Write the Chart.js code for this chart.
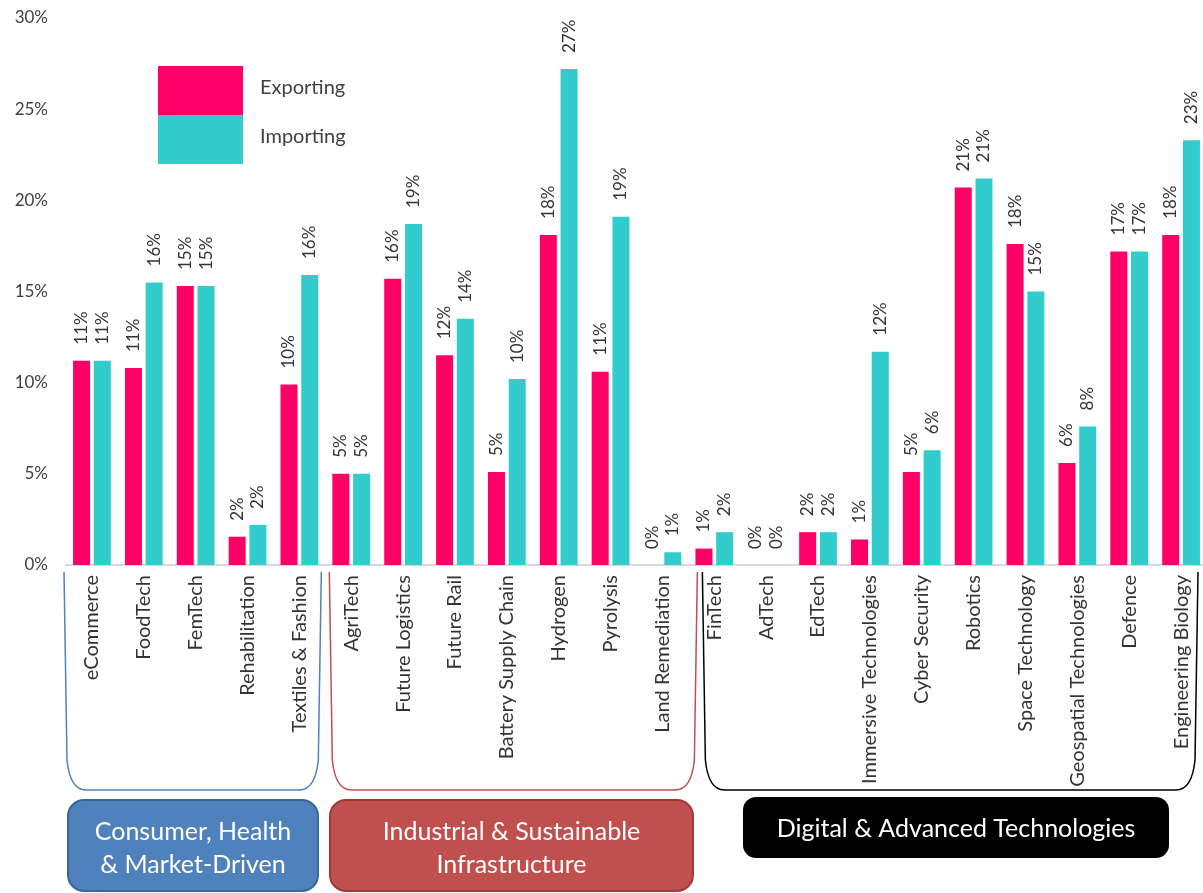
<!DOCTYPE html>
<html>
<head>
<meta charset="utf-8">
<script src="https://cdn.jsdelivr.net/npm/chart.js@4.4.1/dist/chart.umd.min.js"></script>
<style>
  html, body { margin: 0; padding: 0; background: #fff; overflow: hidden; }
  #wrap { position: absolute; left: 0; top: 0; width: 1207px; height: 893px; }
</style>
</head>
<body>
<div id="wrap"><canvas id="chart"></canvas></div>
<script>
// values (percent)
const categories = ["eCommerce", "FoodTech", "FemTech", "Rehabilitation", "Textiles & Fashion",
  "AgriTech", "Future Logistics", "Future Rail", "Battery Supply Chain", "Hydrogen", "Pyrolysis", "Land Remediation",
  "FinTech", "AdTech", "EdTech", "Immersive Technologies", "Cyber Security", "Robotics", "Space Technology",
  "Geospatial Technologies", "Defence", "Engineering Biology"];
const exporting = [11.2, 10.8, 15.3, 1.55, 9.9, 5.0, 15.7, 11.5, 5.1, 18.1, 10.6, 0,
  0.9, 0, 1.8, 1.4, 5.1, 20.7, 17.6, 5.6, 17.2, 18.1];
const importing = [11.2, 15.5, 15.3, 2.2, 15.9, 5.0, 18.7, 13.5, 10.2, 27.2, 19.1, 0.7,
  1.8, 0, 1.8, 11.7, 6.3, 21.2, 15.0, 7.6, 17.2, 23.3];
const seriesNames = ["Exporting", "Importing"];
const yTickStep = 5;
const yMax = 30;

const groupLabels = [["Consumer, Health", "& Market-Driven"], ["Industrial & Sustainable", "Infrastructure"], ["Digital & Advanced Technologies"]];
const groupFirst = [0, 5, 12];
const groupLast = [4, 11, 21];

const COL_EXP = "#FF0066";
const COL_IMP = "#33CCCC";
const FONT = "Lato";

// bracket insets (px) and boxes for the three groups
const groupStyle = [
  { line: "#4F81BD", inL: -2, inR: -4, box: [68, 800, 250, 91], fill: "#4F81BD", edge: "#3B6696", r: 16 },
  { line: "#C0504D", inL: 4, inR: 9, box: [330, 800, 363, 91], fill: "#C0504D", edge: "#9C3B38", r: 16 },
  { line: "#000000", inL: 14, inR: -9, box: [744, 798, 424, 59], fill: "#000000", edge: "#000000", r: 12 }
];

const extras = {
  id: "extras",
  afterDatasetsDraw(chart) {
    const ctx = chart.ctx;
    // value labels above bars
    ctx.save();
    ctx.font = "17px " + FONT;
    ctx.fillStyle = "#333333";
    ctx.textAlign = "left";
    ctx.textBaseline = "middle";
    chart.data.datasets.forEach((ds, di) => {
      chart.getDatasetMeta(di).data.forEach((bar, i) => {
        ctx.save();
        ctx.translate(bar.x, bar.y - 16);
        ctx.rotate(-Math.PI / 2);
        ctx.fillText(Math.round(ds.data[i]) + "%", 0, 0);
        ctx.restore();
      });
    });
    ctx.restore();
  },
  afterDraw(chart) {
    const ctx = chart.ctx;
    const x = chart.scales.x;
    const cw = x.getPixelForValue(1) - x.getPixelForValue(0);

    // legend
    ctx.save();
    chart.data.datasets.forEach((ds, i) => {
      ctx.fillStyle = ds.backgroundColor;
      ctx.fillRect(158, 66 + i * 49, 85, 49);
      ctx.fillStyle = "#404040";
      ctx.font = "20px " + FONT;
      ctx.textBaseline = "middle";
      ctx.fillText(ds.label, 260, 88 + i * 49);
    });
    ctx.restore();

    // group brackets and boxes
    groupLabels.forEach((lines, g) => {
      const st = groupStyle[g];
      const l = x.getPixelForValue(groupFirst[g]) - cw / 2 + st.inL;
      const r = x.getPixelForValue(groupLast[g]) + cw / 2 + st.inR;
      const top = 572, bot = 790;
      ctx.save();
      ctx.strokeStyle = st.line;
      ctx.lineWidth = 1.5;
      ctx.beginPath();
      ctx.moveTo(l, top);
      ctx.lineTo(l + 3, bot - 30);
      ctx.quadraticCurveTo(l + 6, bot, l + 22, bot);
      ctx.lineTo(r - 22, bot);
      ctx.quadraticCurveTo(r - 6, bot, r - 3, bot - 30);
      ctx.lineTo(r, top);
      ctx.stroke();

      const [bx, by, bw, bh] = st.box;
      ctx.beginPath();
      ctx.roundRect(bx, by, bw, bh, st.r);
      ctx.fillStyle = st.fill;
      ctx.fill();
      ctx.lineWidth = 2;
      ctx.strokeStyle = st.edge;
      ctx.stroke();

      ctx.fillStyle = "#FFFFFF";
      ctx.font = "25px " + FONT;
      ctx.textAlign = "center";
      ctx.textBaseline = "middle";
      const lh = 33;
      const cy = by + bh / 2 - (lines.length - 1) * lh / 2 + (lines.length > 1 ? 3 : 1);
      lines.forEach((t, k) => ctx.fillText(t, bx + bw / 2, cy + k * lh));
      ctx.restore();
    });
  }
};

new Chart(document.getElementById("chart"), {
  type: "bar",
  data: {
    labels: categories,
    datasets: [
      { label: seriesNames[0], data: exporting, backgroundColor: COL_EXP },
      { label: seriesNames[1], data: importing, backgroundColor: COL_IMP }
    ]
  },
  options: {
    responsive: true,
    maintainAspectRatio: false,
    animation: false,
    layout: { padding: { top: 18, right: 0, bottom: 0, left: 0 } },
    datasets: { bar: { categoryPercentage: 0.8, barPercentage: 0.82 } },
    plugins: { legend: { display: false }, tooltip: { enabled: false } },
    scales: {
      x: {
        grid: { display: false, drawTicks: false },
        border: { display: true, color: "#D9D9D9", width: 2 },
        ticks: { autoSkip: false, minRotation: 90, maxRotation: 90, padding: 10,
                 color: "#333333", font: { family: FONT, size: 20 } },
        afterFit(s) { s.height = 328; s.paddingLeft = 0; s.paddingRight = 0; }
      },
      y: {
        min: 0, max: yMax,
        grid: { display: false, drawTicks: false },
        border: { display: false },
        ticks: { stepSize: yTickStep, padding: 18, color: "#404040",
                 font: { family: FONT, size: 17 }, callback: v => v + "%" },
        afterFit(s) { s.width = 66; s.paddingTop = 0; s.paddingBottom = 0; }
      }
    }
  },
  plugins: [extras]
});
</script>
</body>
</html>
